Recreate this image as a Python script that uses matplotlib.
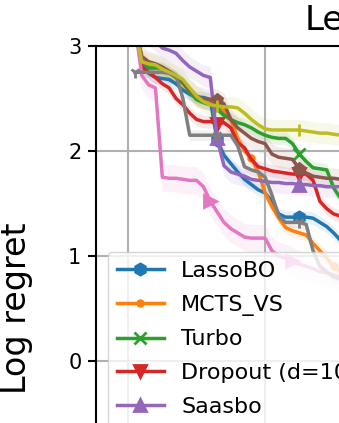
import numpy as np
import matplotlib.pyplot as plt

# iterations (every 5 evaluations)
x = np.arange(5, 165, 5)

lassobo = [3.2, 2.82, 2.74, 2.7, 2.69, 2.68, 2.64, 2.58, 2.54, 2.51, 2.51, 2.49, 2.1, 1.96, 1.88, 1.8,
           1.73, 1.68, 1.63, 1.6, 1.52, 1.4, 1.37, 1.37, 1.37, 1.37, 1.36, 1.32, 1.28, 1.22, 1.15, 1.1]
mcts_vs = [3.2, 2.9, 2.82, 2.8, 2.78, 2.74, 2.7, 2.64, 2.57, 2.5, 2.47, 2.45, 2.42, 2.38, 2.3, 2.12,
           2.0, 1.93, 1.8, 1.6, 1.47, 1.36, 1.27, 1.24, 1.22, 1.2, 1.12, 1.05, 0.98, 0.9, 0.85, 0.8]
turbo = [3.2, 2.85, 2.79, 2.79, 2.79, 2.75, 2.7, 2.65, 2.56, 2.49, 2.46, 2.44, 2.4, 2.34, 2.3, 2.27,
         2.25, 2.22, 2.18, 2.15, 2.13, 2.12, 2.12, 2.07, 1.97, 1.9, 1.84, 1.83, 1.82, 1.65, 1.55, 1.5]
dropout = [3.2, 2.8, 2.75, 2.7, 2.64, 2.6, 2.5, 2.44, 2.36, 2.3, 2.28, 2.28, 2.26, 2.27, 2.22, 2.08,
           2.03, 1.92, 1.85, 1.83, 1.81, 1.8, 1.79, 1.78, 1.78, 1.78, 1.72, 1.52, 1.45, 1.4, 1.38, 1.35]
saasbo = [3.3, 3.2, 3.1, 3.05, 2.98, 2.96, 2.93, 2.86, 2.8, 2.76, 2.72, 2.7, 2.12, 1.86, 1.8, 1.78,
          1.76, 1.73, 1.72, 1.71, 1.7, 1.7, 1.69, 1.69, 1.68, 1.68, 1.67, 1.67, 1.66, 1.66, 1.66, 1.66]
brown = [3.2, 2.9, 2.85, 2.83, 2.8, 2.76, 2.72, 2.66, 2.58, 2.52, 2.5, 2.49, 2.49, 2.45, 2.3, 2.22,
         2.17, 2.12, 2.09, 2.07, 1.97, 1.94, 1.93, 1.92, 1.83, 1.79, 1.76, 1.75, 1.74, 1.74, 1.73, 1.73]
pink = [3.2, 2.72, 2.63, 2.6, 1.75, 1.74, 1.74, 1.73, 1.72, 1.72, 1.66, 1.52, 1.42, 1.32, 1.26, 1.22,
        1.18, 1.17, 1.17, 1.17, 1.05, 1.0, 0.98, 0.95, 0.92, 0.9, 0.88, 0.85, 0.84, 0.82, 0.8, 0.8]
gray = [2.75, 2.75, 2.75, 2.75, 2.75, 2.74, 2.72, 2.5, 2.15, 2.15, 2.15, 2.15, 2.15, 2.15, 2.15, 2.05,
        1.85, 1.82, 1.8, 1.75, 1.58, 1.38, 1.32, 1.32, 1.32, 1.3, 1.05, 0.9, 0.85, 0.8, 0.78, 0.75]
olive = [3.2, 2.85, 2.83, 2.82, 2.78, 2.75, 2.72, 2.68, 2.6, 2.52, 2.47, 2.44, 2.43, 2.42, 2.42, 2.41,
         2.36, 2.3, 2.25, 2.21, 2.2, 2.2, 2.2, 2.2, 2.2, 2.19, 2.18, 2.17, 2.17, 2.16, 2.15, 2.15]

labels = ["LassoBO", "MCTS_VS", "Turbo", "Dropout (d=10)", "Saasbo", "Alebo", "Hesbo", "Random", "VAE-BO"]
series = [lassobo, mcts_vs, turbo, dropout, saasbo, brown, pink, gray, olive]
spread = [0.06, 0.06, 0.06, 0.06, 0.1, 0.1, 0.13, 0.05, 0.1]
markers = ['h', '.', 'x', 'v', '^', 'p', '>', '1', '|']
colors = ['tab:blue', 'tab:orange', 'tab:green', 'tab:red', 'tab:purple',
          'tab:brown', 'tab:pink', 'tab:gray', 'tab:olive']
mark_at = [[12, 24], [17, 29], [12, 24], [12, 24], [12, 24], [12, 24], [11, 23], [0, 12, 24], [12, 24]]

fig = plt.figure(figsize=(3.39, 4.23), dpi=100)
# axes is larger than the canvas (crop of a bigger figure)
ax = fig.add_axes([96 / 339, 0.8913 - 525 / 423, 0.903, 525 / 423])

for i in range(len(series)):
    y = np.array(series[i])
    ax.fill_between(x, y - spread[i], y + spread[i], color=colors[i], alpha=0.1, lw=0)
    ax.plot(x, y, color=colors[i], lw=2.5, marker=markers[i], ms=8, mew=2,
            markevery=mark_at[i], label=labels[i])

ax.set_xlim(-23.4, 200)
ax.set_ylim(-2, 3)
ax.set_yticks([-1, 0, 1, 2, 3])
ax.set_xticks([0, 100])
ax.grid(True, color='#b0b0b0', lw=1.5)
for s in ax.spines.values():
    s.set_linewidth(1.5)
ax.tick_params(labelsize=15, width=1.5, length=5.5, pad=5)
ax.set_ylabel("Log regret", fontsize=24, labelpad=13)

fig.text(305 / 339, (423 - 30) / 423, "Levy", fontsize=24.5, ha='left', va='baseline')

ax.legend(loc='upper left', bbox_to_anchor=(108 / 339, (423 - 252) / 423),
          bbox_transform=fig.transFigure, borderaxespad=0, fontsize=16,
          labelspacing=0.62, handlelength=2.1)

fig.savefig("out.png", dpi=100)
